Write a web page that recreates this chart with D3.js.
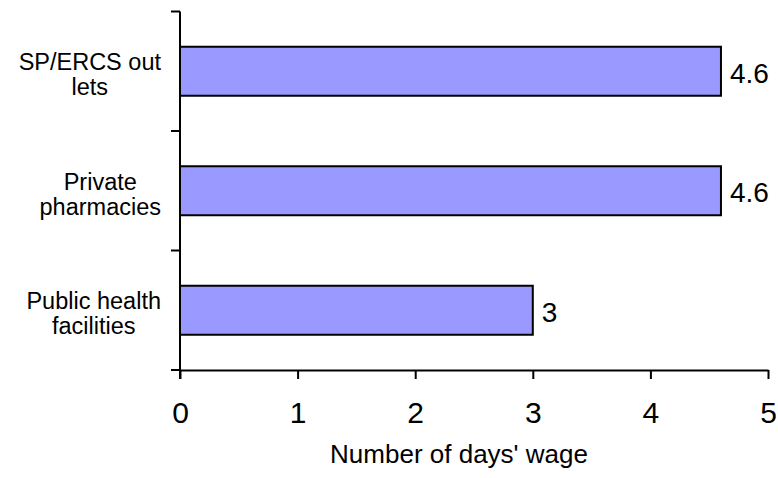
<!DOCTYPE html>
<html>
<head>
<meta charset="utf-8">
<script src="https://cdn.jsdelivr.net/npm/d3@7"></script>
<style>
  html, body { margin: 0; padding: 0; background: #fff; }
  svg { display: block; font-family: "Liberation Sans", Arial, sans-serif; }
</style>
</head>
<body>
<svg id="chart" width="778" height="478"></svg>
<script>
// Outlet types, top to bottom, each label split into its wrapped lines
const categories = ["SP/ERCS outlets", "Private pharmacies", "Public health facilities"];
const categoryLines = [["SP/ERCS out", "lets"], ["Private", "pharmacies"], ["Public health", "facilities"]];
// Cost of treatment expressed in days' wages
const values = [4.6, 4.6, 3];
const xTicks = [0, 1, 2, 3, 4, 5];
const xTitle = "Number of days' wage";

const svg = d3.select("#chart");
const plotLeft = 180, plotRight = 768, plotTop = 11.5, plotBottom = 370;

const x = d3.scaleLinear().domain([0, 5]).range([plotLeft, plotRight]);
const pad = 0.59;
const y = d3.scaleBand().domain(categories).range([plotTop, plotBottom])
  .paddingInner(pad).paddingOuter(pad / 2);

// Bars
svg.append("g").selectAll("rect")
  .data(categories)
  .join("rect")
  .attr("x", x(0))
  .attr("y", d => y(d))
  .attr("width", (d, i) => x(values[i]) - x(0))
  .attr("height", y.bandwidth())
  .attr("fill", "#9999FF")
  .attr("stroke", "#000")
  .attr("stroke-width", 2);

// Value labels to the right of each bar
svg.append("g").selectAll("text")
  .data(categories)
  .join("text")
  .attr("x", (d, i) => x(values[i]) + 9)
  .attr("y", (d) => y(d) + y.bandwidth() / 2 + 11.5)
  .attr("font-size", 28)
  .attr("fill", "#000")
  .text((d, i) => values[i]);

// X axis
const xAxis = d3.axisBottom(x).tickValues(xTicks).tickFormat(d3.format("d"))
  .tickSize(9).tickSizeOuter(0).tickPadding(23);
const gx = svg.append("g").attr("transform", `translate(0,${plotBottom})`).call(xAxis);
gx.select(".domain").attr("stroke", "#000").attr("stroke-width", 2);
gx.selectAll(".tick line").attr("stroke", "#000").attr("stroke-width", 2);
gx.selectAll(".tick text").attr("font-size", 30).attr("fill", "#000")
  .attr("font-family", "\"Liberation Sans\", Arial, sans-serif");

// Y axis: vertical line plus ticks at the band boundaries
const step = y.step();
const boundaries = d3.range(categories.length + 1).map(i => plotTop + i * step);
const gy = svg.append("g");
gy.append("line")
  .attr("x1", plotLeft).attr("x2", plotLeft)
  .attr("y1", plotTop).attr("y2", plotBottom + 9)
  .attr("stroke", "#000").attr("stroke-width", 2);
gy.selectAll("line.tk")
  .data(boundaries)
  .join("line")
  .attr("class", "tk")
  .attr("x1", plotLeft - 9).attr("x2", plotLeft)
  .attr("y1", d => d).attr("y2", d => d)
  .attr("stroke", "#000").attr("stroke-width", 2);

// Category labels: each block right-aligned, lines centred within it
const lineH = 25;
const blockRight = 161;
categories.forEach((c, i) => {
  const g = svg.append("g");
  const texts = categoryLines[i].map((ln, j) =>
    g.append("text")
      .attr("font-size", 23.5)
      .attr("fill", "#000")
      .attr("text-anchor", "middle")
      .attr("y", y(c) + y.bandwidth() / 2 - 1 + j * lineH)
      .text(ln));
  const w = d3.max(texts, t => t.node().getComputedTextLength());
  texts.forEach(t => t.attr("x", blockRight - w / 2));
});

// Axis title
svg.append("text")
  .attr("x", 459)
  .attr("y", 463)
  .attr("text-anchor", "middle")
  .attr("font-size", 26)
  .attr("fill", "#000")
  .text(xTitle);
</script>
</body>
</html>
